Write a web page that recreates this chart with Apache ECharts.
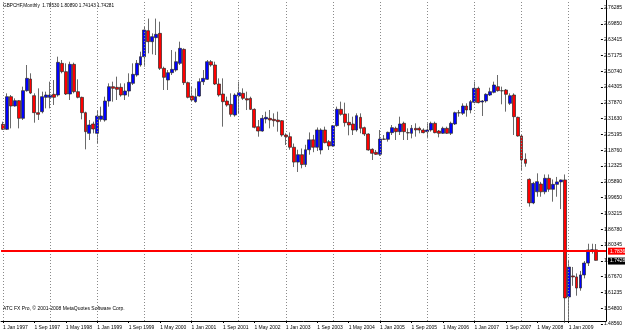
<!DOCTYPE html>
<html>
<head>
<meta charset="utf-8">
<script src="https://cdn.jsdelivr.net/npm/echarts@6/dist/echarts.min.js"></script>
<style>
  html, body { margin: 0; padding: 0; background: #fff; }
  #chart { width: 625px; height: 334px; }
</style>
</head>
<body>
<div id="chart"></div>
<script>
// monthly GBPCHF, Jan 1997 .. Aug 2009
const startYear = 1997
const monthNames = ['Jan', 'Feb', 'Mar', 'Apr', 'May', 'Jun', 'Jul', 'Aug', 'Sep', 'Oct', 'Nov', 'Dec']

const opens = [
  2.2926, 2.2724, 2.4044, 2.3667, 2.3883, 2.3169, 2.4287, 2.4758, 2.4085, 2.3398, 2.3438, 2.4017,
  2.4017, 2.4139, 2.4112, 2.5392, 2.5055, 2.4152, 2.5351, 2.4247, 2.4017, 2.3398, 2.2562, 2.2940,
  2.2562, 2.3128, 2.3101, 2.3869, 2.4449, 2.4422, 2.4422, 2.4112, 2.4273, 2.4583, 2.4920, 2.5324,
  2.5661, 2.6712, 2.6267, 2.6429, 2.6604, 2.5189, 2.4718, 2.5014, 2.5122, 2.5392, 2.5957, 2.4610,
  2.4071, 2.3842, 2.4071, 2.4650, 2.4745, 2.5459, 2.5324, 2.4556, 2.4152, 2.3869, 2.3734, 2.3303,
  2.4071, 2.4179, 2.3964, 2.3977, 2.3532, 2.2832, 2.2656, 2.3142, 2.3168, 2.3128, 2.3101, 2.3074,
  2.2495, 2.2427, 2.2000, 2.1400, 2.1700, 2.1300, 2.1900, 2.2300, 2.2000, 2.1889, 2.2697, 2.2226,
  2.2051, 2.2873, 2.3533, 2.3344, 2.3007, 2.2940, 2.2697, 2.3209, 2.2792, 2.2536, 2.1916, 2.1795,
  2.1714, 2.2334, 2.2320, 2.2590, 2.2765, 2.2630, 2.2967, 2.2590, 2.2563, 2.2765, 2.2765, 2.2697,
  2.2630, 2.2697, 2.2967, 2.2657, 2.2563, 2.2765, 2.2563, 2.2940, 2.3398, 2.3371, 2.3667, 2.3506,
  2.3816, 2.4381, 2.3830, 2.3870, 2.4112, 2.4220, 2.4449, 2.4287, 2.4314, 2.3775, 2.4112, 2.3209,
  2.2455, 2.1512, 2.0703, 1.9750, 2.0200, 2.0515, 2.0200, 2.0744, 2.0300, 2.0500, 2.0600, 2.0680,
  1.5950, 1.6800, 1.6760, 1.6310, 1.6840, 1.7320, 1.7850, 1.7853
]
const highs = [
  2.3034, 2.4179, 2.4112, 2.3977, 2.3910, 2.4449, 2.5324, 2.4988, 2.4179, 2.4381, 2.4247, 2.4247,
  2.4651, 2.4718, 2.5661, 2.5526, 2.5392, 2.5459, 2.5419, 2.4745, 2.4044, 2.3438, 2.3101, 2.3034,
  2.3505, 2.3640, 2.4044, 2.4583, 2.4651, 2.4853, 2.4583, 2.4583, 2.4988, 2.5392, 2.5526, 2.5863,
  2.6874, 2.7200, 2.6604, 2.7200, 2.7076, 2.5257, 2.5122, 2.5930, 2.5863, 2.6267, 2.5998, 2.4650,
  2.4448, 2.4381, 2.4785, 2.5122, 2.5526, 2.5526, 2.5459, 2.4785, 2.4785, 2.4044, 2.4179, 2.4179,
  2.4650, 2.4381, 2.4246, 2.4044, 2.3573, 2.3101, 2.3303, 2.3438, 2.3505, 2.3371, 2.3438, 2.3101,
  2.2562, 2.2600, 2.2150, 2.1900, 2.1950, 2.2100, 2.2600, 2.2500, 2.2800, 2.2765, 2.2832, 2.2293,
  2.2899, 2.3641, 2.3843, 2.3802, 2.3371, 2.3236, 2.3371, 2.3371, 2.2832, 2.2563, 2.1957, 2.1889,
  2.2697, 2.2495, 2.2630, 2.2899, 2.2832, 2.3236, 2.3034, 2.2765, 2.2899, 2.2967, 2.2832, 2.2765,
  2.2967, 2.3034, 2.3034, 2.2697, 2.2832, 2.2832, 2.3034, 2.3439, 2.3506, 2.3775, 2.3775, 2.3910,
  2.4651, 2.4449, 2.3910, 2.4180, 2.4408, 2.4651, 2.4920, 2.4449, 2.4355, 2.4180, 2.4180, 2.3236,
  2.2495, 2.1754, 2.0744, 2.0600, 2.0946, 2.0600, 2.0900, 2.0900, 2.0700, 2.0800, 2.0700, 2.0900,
  1.7450, 1.7160, 1.6900, 1.7000, 1.7400, 1.8100, 1.8100, 1.8089
]
const lows = [
  2.2697, 2.2697, 2.2764, 2.3640, 2.2764, 2.3101, 2.4247, 2.4150, 2.2993, 2.3101, 2.3371, 2.3573,
  2.3573, 2.3708, 2.4044, 2.4988, 2.4112, 2.3910, 2.4179, 2.3977, 2.3128, 2.1916, 2.2293, 2.2562,
  2.2158, 2.3034, 2.3034, 2.3640, 2.3842, 2.3910, 2.4044, 2.3910, 2.4044, 2.4516, 2.4853, 2.5257,
  2.5257, 2.5796, 2.5755, 2.5728, 2.5122, 2.4314, 2.4314, 2.4920, 2.5055, 2.5324, 2.4516, 2.3977,
  2.3842, 2.3800, 2.4044, 2.4516, 2.4718, 2.5257, 2.4516, 2.4044, 2.2832, 2.3640, 2.3236, 2.3236,
  2.3371, 2.3909, 2.3505, 2.3505, 2.2764, 2.2427, 2.2630, 2.2966, 2.2764, 2.2832, 2.2630, 2.2427,
  2.2090, 2.1900, 2.1200, 2.1000, 2.1150, 2.1200, 2.1700, 2.1800, 2.1850, 2.1714, 2.2159, 2.1889,
  2.2024, 2.2832, 2.3277, 2.2832, 2.2482, 2.2495, 2.2630, 2.2563, 2.2455, 2.1862, 2.1485, 2.1687,
  2.1647, 2.2293, 2.2226, 2.2495, 2.2293, 2.2495, 2.2293, 2.2293, 2.2360, 2.2428, 2.2563, 2.2563,
  2.2360, 2.2630, 2.2563, 2.2401, 2.2536, 2.2536, 2.2495, 2.2899, 2.3236, 2.3304, 2.3236, 2.3371,
  2.3775, 2.3775, 2.3264, 2.3802, 2.4072, 2.4180, 2.4247, 2.3735, 2.3439, 2.3708, 2.2495, 2.2428,
  2.1081, 2.1215, 1.9600, 1.9700, 2.0000, 2.0000, 2.0100, 2.0200, 1.9800, 2.0000, 1.9500, 1.4900,
  1.5000, 1.6400, 1.6000, 1.6200, 1.6700, 1.7200, 1.7700, 1.7414
]
const closes = [
  2.2724, 2.4044, 2.3667, 2.3883, 2.3169, 2.4287, 2.4785, 2.4190, 2.3398, 2.3330, 2.4044, 2.4112,
  2.4112, 2.4017, 2.5432, 2.5055, 2.4152, 2.5351, 2.4247, 2.4017, 2.3398, 2.2630, 2.2899, 2.2737,
  2.3263, 2.3263, 2.3869, 2.4449, 2.4381, 2.4341, 2.4112, 2.4273, 2.4624, 2.4947, 2.5392, 2.5661,
  2.6739, 2.6267, 2.6469, 2.6564, 2.5189, 2.4826, 2.5014, 2.5149, 2.5459, 2.5998, 2.4610, 2.4017,
  2.3909, 2.4044, 2.4650, 2.4785, 2.5459, 2.5324, 2.4556, 2.4112, 2.3842, 2.3707, 2.3330, 2.4112,
  2.4206, 2.3977, 2.3910, 2.3532, 2.2805, 2.2656, 2.3168, 2.3209, 2.3101, 2.3074, 2.3034, 2.2495,
  2.2427, 2.2000, 2.1400, 2.1700, 2.1300, 2.1900, 2.2300, 2.2000, 2.2700, 2.2697, 2.2185, 2.2051,
  2.2873, 2.3533, 2.3331, 2.2994, 2.2899, 2.2697, 2.3277, 2.2765, 2.2536, 2.1889, 2.1754, 2.1714,
  2.2334, 2.2320, 2.2603, 2.2792, 2.2630, 2.2940, 2.2630, 2.2580, 2.2765, 2.2697, 2.2697, 2.2590,
  2.2697, 2.2967, 2.2590, 2.2563, 2.2765, 2.2563, 2.2967, 2.3398, 2.3390, 2.3667, 2.3506, 2.3843,
  2.4381, 2.3802, 2.3870, 2.4139, 2.4247, 2.4516, 2.4287, 2.4280, 2.4139, 2.4085, 2.3236, 2.2455,
  2.1485, 2.1350, 1.9750, 2.0540, 2.0610, 2.0200, 2.0744, 2.0300, 2.0500, 2.0600, 2.0680, 1.5910,
  1.7160, 1.6760, 1.6310, 1.6840, 1.7320, 1.7850, 1.7853, 1.7428
]

// right price scale, top to bottom
const yTickLabels = ['2.76285', '2.69850', '2.63415', '2.57175', '2.50740', '2.44305', '2.37870',
  '2.31630', '2.25195', '2.18760', '2.12325', '2.05890', '1.99650', '1.93215', '1.86780', '1.80345',
  '1.73910', '1.67670', '1.61235', '1.54800', '1.48560']
const yTop = 2.76285
const yBottom = 1.4856

const levelLine = 1.7836
const lastPrice = 1.74281
const headerText = 'GBPCHF,Monthly  1.78530 1.80890 1.74143 1.74281'
const footerText = 'ATC FX Pro, \u00a9 2001-2008 MetaQuotes Software Corp.'

const emptySlots = 2
const categories = []
for (let i = 0; i < opens.length + emptySlots; i++) {
  const y = startYear + Math.floor(i / 12)
  categories.push('1 ' + monthNames[i % 12] + ' ' + y)
}
const yearStarts = categories.filter((c, i) => i % 12 === 0 && i < opens.length)
const candles = opens.map((o, i) => [o, closes[i], lows[i], highs[i]])

// data grid spans y 0..321, label scale spans y 8..324
const pxPerStep = 316 / (yTickLabels.length - 1)
const yStep = (yTop - yBottom) / (yTickLabels.length - 1)
const perPx = yStep / pxPerStep

const showDateLabel = (i) => i % 8 === 0 && i < opens.length

const chart = echarts.init(document.getElementById('chart'))
const smallFont = { fontFamily: 'Liberation Sans', fontSize: 5, color: '#000' }
const priceTag = (value, bg) => ({
  show: true, position: 'end', distance: 2, formatter: value.toFixed(4),
  backgroundColor: bg, color: '#fff', fontFamily: 'Liberation Sans', fontSize: 5, padding: [1, 2]
})

chart.setOption({
  animation: false,
  backgroundColor: '#fff',
  title: [
    { text: headerText, left: 3, top: 3, padding: 0, textStyle: { ...smallFont, fontSize: 4.7, fontWeight: 'normal' } },
    { text: footerText, left: 3, top: 306, padding: 0, textStyle: { ...smallFont, fontWeight: 'normal' } }
  ],
  grid: [
    { left: 0, right: 19, top: 0, bottom: 13 },
    { left: 0, right: 19, top: 8, bottom: 10 }
  ],
  xAxis: [
    {
      type: 'category',
      gridIndex: 0,
      data: categories,
      boundaryGap: true,
      axisLine: { lineStyle: { color: '#000', width: 1 } },
      axisTick: { show: true, alignWithLabel: true, length: 2, interval: showDateLabel, lineStyle: { color: '#000' } },
      axisLabel: { ...smallFont, interval: showDateLabel, align: 'left', margin: 4 },
      splitLine: { show: false }
    },
    { type: 'category', gridIndex: 1, data: categories, show: false }
  ],
  yAxis: [
    {
      type: 'value',
      gridIndex: 0,
      position: 'right',
      min: yBottom + 3 * perPx,
      max: yTop + 8 * perPx,
      axisLine: { show: true, lineStyle: { color: '#000' } },
      axisTick: { show: false },
      axisLabel: { show: false },
      splitLine: { show: false }
    },
    {
      type: 'value',
      gridIndex: 1,
      position: 'right',
      min: yBottom,
      max: yTop,
      interval: yStep,
      axisLine: { show: false },
      axisTick: { show: true, length: 2, lineStyle: { color: '#000' } },
      axisLabel: {
        ...smallFont,
        margin: 3,
        formatter: (v) => yTickLabels[yTickLabels.length - 1 - Math.round((v - yBottom) / yStep)]
      },
      splitLine: { show: false }
    }
  ],
  series: [
    {
      type: 'candlestick',
      xAxisIndex: 0,
      yAxisIndex: 0,
      data: candles,
      barWidth: 3.4,
      itemStyle: {
        color: '#0000ff',
        color0: '#ff0000',
        borderColor: '#2a2a2a',
        borderColor0: '#2a2a2a',
        borderWidth: 0.7
      },
      markLine: {
        silent: true,
        symbol: 'none',
        animation: false,
        data: [
          ...yearStarts.map(c => ({
            xAxis: c,
            lineStyle: { color: '#8a8a8a', type: [1, 2], width: 1 },
            label: { show: false }
          })),
          {
            yAxis: levelLine,
            lineStyle: { color: '#ff0000', type: 'solid', width: 2 },
            label: priceTag(levelLine, '#ff0000')
          },
          {
            yAxis: lastPrice,
            lineStyle: { color: 'rgba(0,0,0,0)', width: 1 },
            label: priceTag(lastPrice, '#000')
          }
        ]
      }
    }
  ]
})
</script>
</body>
</html>
